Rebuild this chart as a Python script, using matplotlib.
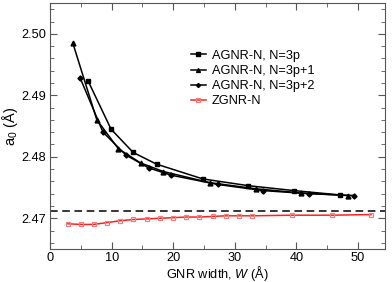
import matplotlib
matplotlib.use("Agg")
import matplotlib.pyplot as plt
from matplotlib.ticker import MultipleLocator

plt.rcParams['font.family'] = ['Liberation Sans', 'DejaVu Sans']
plt.rcParams['mathtext.fontset'] = 'custom'
plt.rcParams['mathtext.it'] = 'Liberation Sans:italic'
plt.rcParams['mathtext.rm'] = 'Liberation Sans'

# AGNR-N, N=3p
w_3p = [6.2, 9.9, 13.5, 17.3, 24.8, 32.2, 39.6, 47.0]
a_3p = [2.4923, 2.4845, 2.4807, 2.4788, 2.4764, 2.4753, 2.4745, 2.4738]

# AGNR-N, N=3p+1
w_3p1 = [3.7, 7.6, 11.1, 14.7, 18.4, 25.9, 33.4, 40.8, 48.3]
a_3p1 = [2.4985, 2.4860, 2.4813, 2.4790, 2.4776, 2.4758, 2.4748, 2.4741, 2.4737]

# AGNR-N, N=3p+2
w_3p2 = [4.9, 8.6, 12.3, 16.0, 19.7, 27.2, 34.6, 42.0, 49.4]
a_3p2 = [2.4928, 2.4840, 2.4803, 2.4782, 2.4770, 2.4755, 2.4745, 2.4740, 2.4737]

# ZGNR-N
w_z = [2.9, 5.0, 7.1, 9.3, 11.4, 13.5, 15.7, 17.8, 20.0, 22.1, 24.2, 26.4,
       28.5, 30.7, 32.8, 39.3, 45.7, 52.1]
a_z = [2.4691, 2.4690, 2.4690, 2.4693, 2.4696, 2.4698, 2.4699, 2.4700, 2.4701,
       2.4702, 2.4702, 2.4703, 2.4704, 2.4704, 2.4704, 2.4705, 2.4705, 2.4706]

a_graphene = 2.4712

fs = 9.2

fig = plt.figure(figsize=(3.92, 2.82), dpi=100)
ax = fig.add_axes([0.1276, 0.117, 0.855, 0.872])

ax.plot(w_3p, a_3p, color='black', lw=1.1, marker='s', ms=3.3, label='AGNR-N, N=3p')
ax.plot(w_3p1, a_3p1, color='black', lw=1.1, marker='^', ms=3.5, label='AGNR-N, N=3p+1')
ax.plot(w_3p2, a_3p2, color='black', lw=1.1, marker='D', ms=2.6, label='AGNR-N, N=3p+2')
ax.plot(w_z, a_z, color='#ff2020', lw=1.1, marker='s', ms=3.5, mfc='none',
        mec='#f08080', mew=0.9, label='ZGNR-N')
ax.axhline(a_graphene, color='black', lw=1.1, ls=(0, (5, 3)))

ax.set_xlim(0, 54.4)
ax.set_ylim(2.465, 2.505)
ax.xaxis.set_major_locator(MultipleLocator(10))
ax.xaxis.set_minor_locator(MultipleLocator(5))
ax.yaxis.set_major_locator(MultipleLocator(0.01))
ax.yaxis.set_minor_locator(MultipleLocator(0.002))
ax.yaxis.set_major_formatter(plt.FormatStrFormatter('%.2f'))
ax.tick_params(which='both', direction='in', top=True, right=True,
               color='#555555', labelsize=fs)
ax.tick_params(axis='x', which='major', pad=2.5)
ax.tick_params(axis='y', which='major', pad=3)
ax.tick_params(which='major', length=5)
ax.tick_params(which='minor', length=3)
for s in ax.spines.values():
    s.set_color('#555555')

ax.set_xlabel('GNR width, $W$ (Å)', fontsize=fs, labelpad=-0.5)
ax.set_ylabel('a$_0$ (Å)', fontsize=10.5, labelpad=1)

ax.legend(loc='upper left', bbox_to_anchor=(0.42, 0.81), frameon=False,
          fontsize=fs, handlelength=1.2, handletextpad=0.45, labelspacing=0.25,
          borderpad=0, borderaxespad=0, markerscale=0.8)

fig.savefig('out.png', dpi=100)
